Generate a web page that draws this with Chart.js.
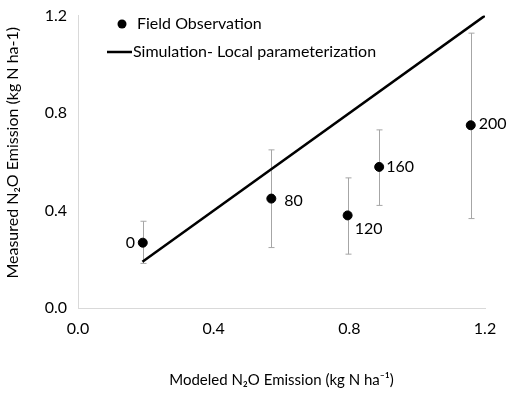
<!DOCTYPE html>
<html>
<head>
<meta charset="utf-8">
<script src="https://cdn.jsdelivr.net/npm/chart.js@4"></script>
<style>
  html, body { margin: 0; padding: 0; background: #fff; }
  #wrap { width: 510px; height: 394px; }
</style>
</head>
<body>
<div id="wrap"><canvas id="n2oChart" width="510" height="394"></canvas></div>
<script>
// Dane: emisja N2O modelowana vs mierzona (dawki N)
const nRates = ["0", "80", "120", "160", "200"]
const modeled = [0.191, 0.570, 0.795, 0.888, 1.158]
const measured = [0.268, 0.449, 0.380, 0.579, 0.750]
const errLow = [0.183, 0.248, 0.221, 0.421, 0.367]
const errHigh = [0.356, 0.649, 0.534, 0.731, 1.128]
// linia symulacji
const simX = [0.19, 1.2]
const simY = [0.19, 1.2]
const tickValues = [0, 0.4, 0.8, 1.2]

const FONT = "Lato, 'Open Sans', sans-serif"

// Słupki błędów
const errorBars = {
  id: "errorBars",
  beforeDatasetsDraw(chart) {
    const { ctx, scales: { x, y } } = chart
    ctx.save()
    ctx.strokeStyle = "#a6a6a6"
    ctx.lineWidth = 1
    modeled.forEach((mx, i) => {
      const px = Math.round(x.getPixelForValue(mx)) + 0.5
      const top = y.getPixelForValue(errHigh[i])
      const bot = y.getPixelForValue(errLow[i])
      ctx.beginPath()
      ctx.moveTo(px, top)
      ctx.lineTo(px, bot)
      ctx.moveTo(px - 3, top)
      ctx.lineTo(px + 3, top)
      ctx.moveTo(px - 3, bot)
      ctx.lineTo(px + 3, bot)
      ctx.stroke()
    })
    ctx.restore()
  },
}

// Etykiety punktów, legenda i tytuł osi Y
const labelsAndLegend = {
  id: "labelsAndLegend",
  afterDatasetsDraw(chart) {
    const { ctx, chartArea, scales: { x, y } } = chart
    ctx.save()
    ctx.fillStyle = "#000"
    ctx.font = "16px " + FONT
    ctx.textBaseline = "middle"
    const offsets = [
      [-17, 0],
      [13, 2],
      [7, 13],
      [7, 0],
      [8, -1],
    ]
    ctx.textAlign = "left"
    nRates.forEach((lab, i) => {
      const px = x.getPixelForValue(modeled[i])
      const py = y.getPixelForValue(measured[i])
      ctx.fillText(lab, px + offsets[i][0], py + offsets[i][1])
    })
    // legenda
    ctx.beginPath()
    ctx.arc(122, 24, 4.5, 0, Math.PI * 2)
    ctx.fill()
    ctx.fillText("Field Observation", 137, 24)
    ctx.strokeStyle = "#000"
    ctx.lineWidth = 2.5
    ctx.beginPath()
    ctx.moveTo(107, 52)
    ctx.lineTo(132, 52)
    ctx.stroke()
    ctx.fillText("Simulation- Local parameterization", 133, 52)
    // tytuł osi Y (lekko powyżej środka, jak w oryginale)
    ctx.translate(13, (chartArea.top + chartArea.bottom) / 2 - 9)
    ctx.rotate(-Math.PI / 2)
    ctx.textAlign = "center"
    ctx.font = "16px " + FONT
    ctx.fillText("Measured N₂O Emission (kg N ha-1)", 0, 0)
    ctx.restore()
  },
}

const config = {
  type: "scatter",
  data: {
    datasets: [
      {
        label: "Field Observation",
        data: modeled.map((v, i) => ({ x: v, y: measured[i] })),
        backgroundColor: "#000",
        borderColor: "#000",
        pointRadius: 4.5,
        order: 1,
      },
      {
        label: "Simulation- Local parameterization",
        type: "line",
        data: simX.map((v, i) => ({ x: v, y: simY[i] })),
        borderColor: "#000",
        borderWidth: 2.5,
        pointRadius: 0,
        fill: false,
        order: 2,
      },
    ],
  },
  options: {
    responsive: false,
    animation: false,
    layout: { padding: { top: 12, right: 25, left: 0, bottom: 0 } },
    plugins: {
      legend: { display: false },
      tooltip: { enabled: false },
    },
    scales: {
      x: {
        type: "linear",
        min: 0,
        max: 1.2,
        afterBuildTicks: (s) => { s.ticks = tickValues.map((v) => ({ value: v })) },
        afterFit: (s) => { s.height = 86 },
        grid: { display: false, drawTicks: true, tickLength: 5, tickColor: "#d9d9d9" },
        border: { color: "#d9d9d9", width: 1 },
        ticks: {
          color: "#000",
          font: { family: FONT, size: 16 },
          padding: 6,
          callback: (v) => v.toFixed(1),
        },
        title: {
          display: true,
          text: "Modeled N₂O Emission (kg N ha⁻¹)",
          color: "#000",
          font: { family: FONT, size: 15 },
          padding: { top: 0, bottom: 5 },
        },
      },
      y: {
        type: "linear",
        min: 0,
        max: 1.2,
        afterBuildTicks: (s) => { s.ticks = tickValues.map((v) => ({ value: v })) },
        afterFit: (s) => { s.width = 78 },
        grid: { display: false, drawTicks: true, tickLength: 5, tickColor: "#d9d9d9" },
        border: { color: "#d9d9d9", width: 1 },
        ticks: {
          color: "#000",
          font: { family: FONT, size: 16 },
          padding: 6,
          callback: (v) => v.toFixed(1),
        },
        title: { display: false },
      },
    },
  },
  plugins: [errorBars, labelsAndLegend],
}

const n2oChart = new Chart(document.getElementById("n2oChart"), config)
</script>
</body>
</html>
